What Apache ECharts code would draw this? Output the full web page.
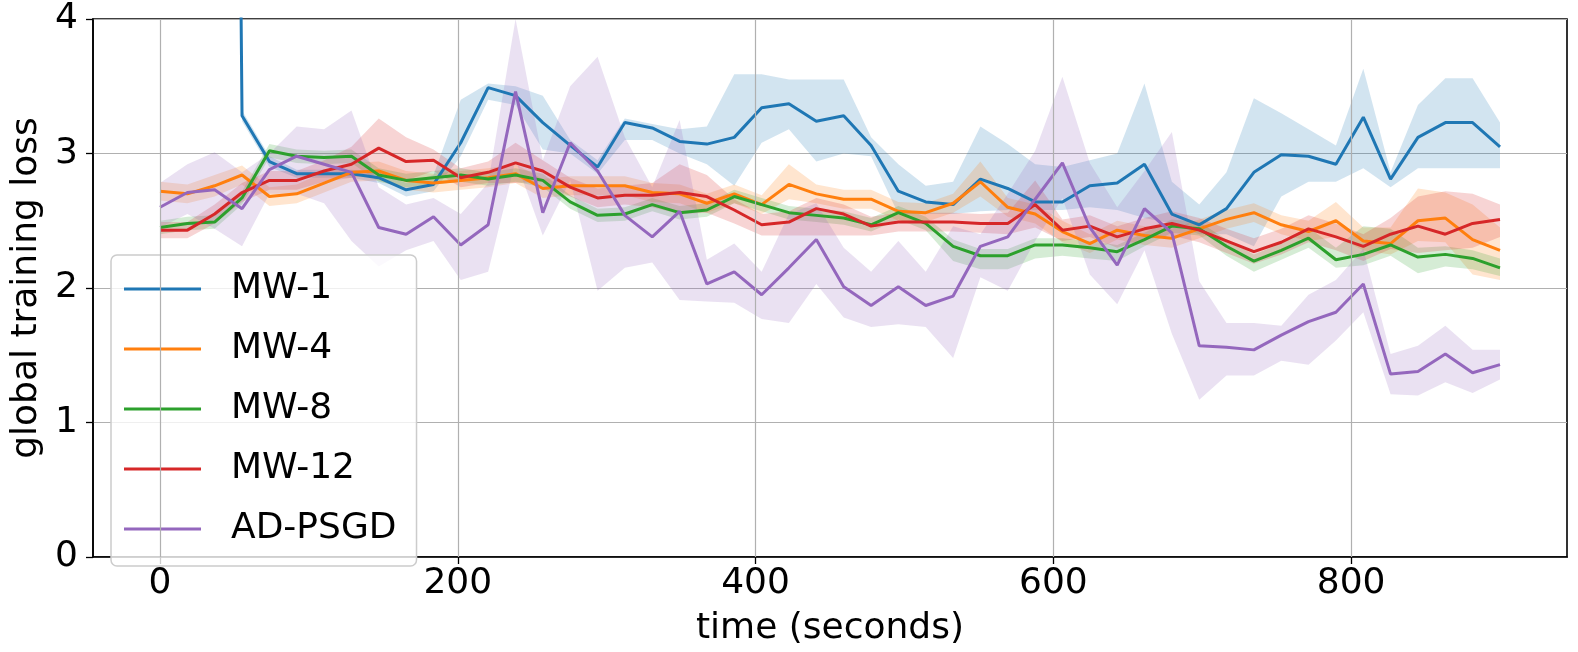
<!DOCTYPE html>
<html>
<head>
<meta charset="utf-8">
<script src="https://cdn.jsdelivr.net/npm/echarts@6/dist/echarts.min.js"></script>
<style>html,body{margin:0;padding:0;background:#fff}</style>
</head>
<body>
<div id="chart" style="width:1578px;height:652px"></div>
<script>
// sample times (seconds)
var times = [0, 18.4, 36.7, 55.1, 73.5, 91.8, 110.2, 128.6, 146.9, 165.3,
  183.7, 202.0, 220.4, 238.8, 257.1, 275.5, 293.9, 312.2, 330.6, 349.0,
  367.3, 385.7, 404.1, 422.4, 440.8, 459.2, 477.6, 495.9, 514.3, 532.7,
  551.0, 569.4, 587.8, 606.1, 624.5, 642.9, 661.2, 679.6, 698.0, 716.3,
  734.7, 753.1, 771.4, 789.8, 808.2, 826.5, 844.9, 863.3, 881.6, 900];

var xTicks = [0, 200, 400, 600, 800];
var names = ['MW-1', 'MW-4', 'MW-8', 'MW-12', 'AD-PSGD'];
var colors = ['#1f77b4', '#ff7f0e', '#2ca02c', '#d62728', '#9467bd'];

var mw1 = [25, 25, 25, 3.28, 2.94, 2.85, 2.85, 2.85, 2.82, 2.73, 2.77, 3.08, 3.49, 3.43, 3.23, 3.06, 2.90, 3.23, 3.19, 3.09,
  3.07, 3.12, 3.34, 3.37, 3.24, 3.28, 3.06, 2.72, 2.64, 2.62, 2.81, 2.74, 2.64, 2.64, 2.76, 2.78, 2.92, 2.55, 2.47, 2.59,
  2.86, 2.99, 2.98, 2.92, 3.27, 2.81, 3.12, 3.23, 3.23, 3.05];
var mw1Hi = [25, 25, 25, 3.32, 2.98, 2.88, 2.88, 2.88, 2.86, 2.78, 2.84, 3.40, 3.52, 3.50, 3.43, 3.10, 2.95, 3.26, 3.22, 3.18,
  3.20, 3.59, 3.59, 3.55, 3.55, 3.55, 3.12, 2.92, 2.76, 2.79, 3.20, 3.07, 2.92, 2.90, 2.95, 3.00, 3.52, 2.79, 2.62, 2.86,
  3.41, 3.30, 3.18, 3.06, 3.63, 2.86, 3.36, 3.56, 3.56, 3.23];
var mw1Lo = [25, 25, 25, 3.24, 2.90, 2.82, 2.82, 2.82, 2.78, 2.68, 2.72, 2.98, 3.40, 3.36, 3.03, 3.00, 2.85, 3.10, 3.10, 3.00,
  2.92, 2.76, 3.08, 3.18, 2.94, 3.00, 2.98, 2.55, 2.55, 2.55, 2.57, 2.58, 2.58, 2.58, 2.60, 2.58, 2.52, 2.48, 2.40, 2.40,
  2.31, 2.68, 2.79, 2.79, 2.89, 2.75, 2.89, 2.89, 2.89, 2.89];

var mw4 = [2.72, 2.70, 2.76, 2.84, 2.68, 2.70, 2.78, 2.86, 2.87, 2.80, 2.78, 2.80, 2.82, 2.85, 2.74, 2.76, 2.76, 2.76, 2.71, 2.70,
  2.63, 2.70, 2.62, 2.77, 2.70, 2.66, 2.66, 2.57, 2.56, 2.63, 2.79, 2.60, 2.55, 2.42, 2.33, 2.43, 2.39, 2.37, 2.44, 2.51,
  2.56, 2.47, 2.42, 2.50, 2.35, 2.33, 2.50, 2.52, 2.36, 2.28];
var mw4Hi = [2.79, 2.77, 2.84, 2.91, 2.75, 2.77, 2.86, 2.93, 2.94, 2.87, 2.85, 2.87, 2.89, 2.92, 2.81, 2.83, 2.83, 2.83, 2.78, 2.77,
  2.70, 2.77, 2.69, 2.92, 2.77, 2.73, 2.73, 2.64, 2.63, 2.70, 2.94, 2.67, 2.62, 2.50, 2.40, 2.50, 2.46, 2.44, 2.51, 2.58,
  2.63, 2.54, 2.50, 2.64, 2.45, 2.45, 2.74, 2.71, 2.62, 2.45];
var mw4Lo = [2.65, 2.63, 2.68, 2.77, 2.61, 2.63, 2.71, 2.79, 2.80, 2.73, 2.71, 2.73, 2.75, 2.78, 2.67, 2.69, 2.69, 2.69, 2.64, 2.63,
  2.56, 2.63, 2.55, 2.66, 2.63, 2.59, 2.59, 2.50, 2.49, 2.56, 2.68, 2.53, 2.48, 2.34, 2.26, 2.36, 2.32, 2.30, 2.37, 2.44,
  2.49, 2.40, 2.35, 2.38, 2.28, 2.25, 2.35, 2.34, 2.10, 2.06];

var mw8 = [2.45, 2.48, 2.49, 2.67, 3.02, 2.98, 2.97, 2.98, 2.84, 2.80, 2.82, 2.84, 2.81, 2.84, 2.80, 2.64, 2.54, 2.55, 2.62, 2.56,
  2.58, 2.68, 2.62, 2.56, 2.54, 2.52, 2.47, 2.56, 2.48, 2.31, 2.24, 2.24, 2.32, 2.32, 2.30, 2.27, 2.36, 2.46, 2.44, 2.31,
  2.20, 2.28, 2.37, 2.21, 2.25, 2.32, 2.23, 2.25, 2.22, 2.15];
var mw8Hi = [2.50, 2.53, 2.54, 2.72, 3.07, 3.03, 3.02, 3.03, 2.89, 2.85, 2.87, 2.89, 2.86, 2.89, 2.85, 2.69, 2.59, 2.60, 2.67, 2.61,
  2.63, 2.73, 2.67, 2.61, 2.59, 2.57, 2.52, 2.61, 2.53, 2.36, 2.29, 2.29, 2.37, 2.37, 2.35, 2.32, 2.41, 2.51, 2.49, 2.36,
  2.25, 2.33, 2.45, 2.30, 2.46, 2.44, 2.30, 2.31, 2.28, 2.22];
var mw8Lo = [2.40, 2.43, 2.44, 2.62, 2.97, 2.93, 2.92, 2.93, 2.79, 2.75, 2.77, 2.79, 2.76, 2.79, 2.75, 2.59, 2.49, 2.50, 2.57, 2.51,
  2.53, 2.63, 2.57, 2.51, 2.49, 2.47, 2.42, 2.51, 2.43, 2.20, 2.14, 2.14, 2.22, 2.24, 2.22, 2.20, 2.31, 2.41, 2.39, 2.24,
  2.12, 2.21, 2.30, 2.15, 2.17, 2.24, 2.11, 2.16, 2.14, 2.09];

var mw12 = [2.43, 2.43, 2.55, 2.71, 2.80, 2.80, 2.87, 2.92, 3.04, 2.94, 2.95, 2.82, 2.86, 2.93, 2.87, 2.75, 2.67, 2.69, 2.69, 2.71,
  2.68, 2.58, 2.47, 2.49, 2.59, 2.55, 2.46, 2.49, 2.49, 2.49, 2.48, 2.48, 2.62, 2.43, 2.46, 2.38, 2.44, 2.48, 2.43, 2.35,
  2.27, 2.34, 2.44, 2.38, 2.31, 2.40, 2.46, 2.40, 2.48, 2.51];
var mw12Hi = [2.49, 2.49, 2.62, 2.78, 2.87, 2.87, 2.95, 3.05, 3.26, 3.12, 3.03, 2.89, 2.94, 3.08, 2.95, 2.82, 2.74, 2.76, 2.78, 2.92,
  2.84, 2.66, 2.55, 2.57, 2.67, 2.62, 2.53, 2.56, 2.56, 2.56, 2.55, 2.56, 2.80, 2.51, 2.54, 2.46, 2.52, 2.57, 2.52, 2.44,
  2.37, 2.44, 2.54, 2.48, 2.40, 2.52, 2.68, 2.72, 2.70, 2.62];
var mw12Lo = [2.37, 2.37, 2.48, 2.64, 2.73, 2.73, 2.79, 2.82, 2.85, 2.80, 2.87, 2.75, 2.78, 2.78, 2.79, 2.68, 2.60, 2.62, 2.60, 2.55,
  2.56, 2.48, 2.39, 2.39, 2.39, 2.39, 2.39, 2.42, 2.42, 2.42, 2.41, 2.40, 2.45, 2.35, 2.38, 2.30, 2.36, 2.39, 2.34, 2.26,
  2.18, 2.25, 2.34, 2.28, 2.20, 2.29, 2.26, 2.28, 2.30, 2.38];

var adpsgd = [2.60, 2.71, 2.73, 2.59, 2.88, 2.98, 2.92, 2.86, 2.45, 2.40, 2.53, 2.32, 2.47, 3.46, 2.56, 3.08, 2.87, 2.54, 2.38, 2.57,
  2.03, 2.12, 1.95, 2.15, 2.36, 2.01, 1.87, 2.01, 1.87, 1.94, 2.31, 2.38, 2.66, 2.93, 2.45, 2.17, 2.59, 2.41, 1.57, 1.56,
  1.54, 1.65, 1.75, 1.82, 2.03, 1.36, 1.38, 1.51, 1.37, 1.43];
var adpsgdHi = [2.78, 2.92, 3.01, 2.86, 3.00, 3.20, 3.18, 3.32, 2.75, 2.62, 2.67, 2.55, 2.78, 4.00, 2.95, 3.50, 3.72, 3.12, 2.75, 3.25,
  2.21, 2.33, 2.12, 2.55, 2.63, 2.30, 2.12, 2.35, 2.12, 2.46, 2.40, 2.70, 3.02, 3.57, 2.93, 2.60, 2.87, 3.16, 2.05, 1.74,
  1.74, 1.72, 1.95, 2.06, 2.29, 1.51, 1.57, 1.72, 1.54, 1.54];
var adpsgdLo = [2.45, 2.55, 2.44, 2.31, 2.70, 2.70, 2.63, 2.35, 2.16, 2.28, 2.35, 2.06, 2.12, 2.95, 2.39, 2.80, 1.98, 2.15, 2.19, 1.91,
  1.90, 1.89, 1.77, 1.74, 2.03, 1.78, 1.71, 1.73, 1.71, 1.48, 2.08, 1.98, 2.35, 2.67, 2.10, 1.88, 2.28, 1.66, 1.17, 1.35,
  1.35, 1.46, 1.43, 1.61, 1.82, 1.21, 1.20, 1.30, 1.22, 1.32];

var means = [mw1, mw4, mw8, mw12, adpsgd];
var lows = [mw1Lo, mw4Lo, mw8Lo, mw12Lo, adpsgdLo];
var highs = [mw1Hi, mw4Hi, mw8Hi, mw12Hi, adpsgdHi];

var font = 'DejaVu Sans';
var myChart = echarts.init(document.getElementById('chart'));

// shaded min/max band, drawn as one polygon through the axes
function band(k) {
  var lo = lows[k], hi = highs[k];
  return {
    name: names[k] + ' band',
    type: 'custom',
    silent: true,
    z: 2,
    data: times.map(function (t, i) { return [t, lo[i], hi[i]]; }),
    encode: { x: 0, y: [1, 2] },
    renderItem: function (params, api) {
      if (params.dataIndex !== 0) return null;
      var pts = [];
      for (var i = 0; i < times.length; i++) pts.push(api.coord([times[i], hi[i]]));
      for (var j = times.length - 1; j >= 0; j--) pts.push(api.coord([times[j], lo[j]]));
      var cs = params.coordSys;
      return {
        type: 'polygon',
        shape: { points: pts },
        style: { fill: colors[k], opacity: 0.2 },
        clipPath: { type: 'rect', shape: { x: cs.x, y: cs.y, width: cs.width, height: cs.height } }
      };
    }
  };
}

var series = [{
  name: 'vgrid',
  type: 'line',
  data: [],
  z: 1,
  markLine: {
    silent: true,
    symbol: 'none',
    label: { show: false },
    lineStyle: { color: '#b0b0b0', width: 1.2, type: 'solid' },
    data: xTicks.map(function (v) { return { xAxis: v }; })
  }
}];
for (var k = 0; k < names.length; k++) series.push(band(k));
for (var k2 = 0; k2 < names.length; k2++) {
  series.push({
    name: names[k2],
    type: 'line',
    z: 3,
    symbol: 'none',
    data: times.map(function (t, i) { return [t, means[k2][i]]; }),
    lineStyle: { width: 3, color: colors[k2] },
    itemStyle: { color: colors[k2] }
  });
}

var option = {
  animation: false,
  backgroundColor: '#fff',
  grid: { left: 93, right: 11, top: 19, bottom: 95, show: true, borderColor: '#000', borderWidth: 1.6 },
  legend: {
    data: names,
    orient: 'vertical',
    left: 111,
    top: 255,
    icon: 'rect',
    itemWidth: 77,
    itemHeight: 3,
    itemGap: 24,
    padding: [16, 20, 19, 13],
    backgroundColor: 'rgba(255,255,255,0.8)',
    borderColor: '#cccccc',
    borderWidth: 1.5,
    borderRadius: 6,
    textStyle: { fontSize: 36, fontFamily: font, color: '#000', lineHeight: 30, padding: [0, 0, 0, 25] }
  },
  xAxis: {
    type: 'value',
    min: -45,
    max: 945,
    name: 'time (seconds)',
    nameLocation: 'middle',
    nameGap: 54,
    nameTextStyle: { fontSize: 36, fontFamily: font, color: '#000' },
    axisLine: { onZero: false, lineStyle: { color: '#000', width: 1.6 } },
    axisTick: { customValues: xTicks, length: 7, lineStyle: { color: '#000', width: 1.3 } },
    axisLabel: { customValues: xTicks, fontSize: 36, fontFamily: font, color: '#000', margin: 9 },
    splitLine: { show: false }
  },
  yAxis: {
    type: 'value',
    min: 0,
    max: 4,
    interval: 1,
    name: 'global training loss',
    nameLocation: 'middle',
    nameGap: 40,
    nameTextStyle: { fontSize: 36, fontFamily: font, color: '#000' },
    axisLine: { show: true, onZero: false, lineStyle: { color: '#000', width: 1.6 } },
    axisTick: { show: true, length: 7, lineStyle: { color: '#000', width: 1.3 } },
    axisLabel: { fontSize: 36, fontFamily: font, color: '#000', margin: 15 },
    splitLine: { show: true, lineStyle: { color: '#b0b0b0', width: 1.2 } }
  },
  series: series
};
myChart.setOption(option);
</script>
</body>
</html>
